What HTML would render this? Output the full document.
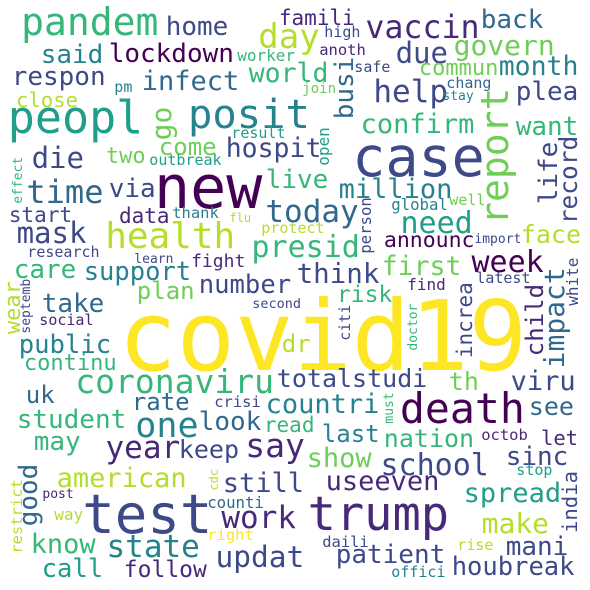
<!DOCTYPE html>
<html><head><meta charset="utf-8"><style>
html,body{margin:0;padding:0;background:#fff;}
svg{display:block;}
text{font-family:"DejaVu Sans Mono","Liberation Mono",monospace;}
</style></head>
<body>
<svg id="cloud" width="590" height="590" viewBox="0 0 590 590" xmlns="http://www.w3.org/2000/svg">
<rect width="590" height="590" fill="#ffffff"/>
<g id="words"></g>
</svg>
<script>
const palette = ["#440154","#482878","#3e4989","#31688e","#26828e","#1f9e89","#35b779","#6ece58","#b5de2b","#fde725"];
// horizontal words: word, left, baseline, size, colour index
const hWords = ["covid19","new","case","test","trump","peopl","death","posit","health","pandem","one","day","say","time","year","work","state","vaccin","help","today","school","need","presid","coronaviru","week","die","mask","updat","still","die"];
const hItems = [
["covid19",123,370,97,9],["new",157,208,60,0],["case",355,176,55,2],["test",85,533,54,2],
["trump",310,530,47,1],["peopl",10,133,45,5],["death",402,423,41.5,0],["posit",190,128,40.5,4],
["health",107,248,36,8],["pandem",23,35,38,6],["one",137,437,35,4],["day",260,48,34,8],
["say",247,457,33,1],["time",28,203,32,3],["year",107,458,31,1],["work",223,528,31,1],
["state",108,557,31,4],["vaccin",367,38,31.6,1],["help",375,102,31,2],["today",267,222,31,3],
["school",382,475,30,2],["need",402,233,30,5],["presid",253,257,30,6],["coronaviru",77,393,33,6],
["week",473,272,30,0],["die",33,168,29,2],["mask",18,243,29,2],["updat",217,567,29.5,2],
["still",224,492,27,2],["due",397,63,29,2],["govern",455,55,28,7],["make",483,533,28,8],
["home",167,35,26,2],["lockdown",110,62,26,0],["said",42,63,26,4],["respon",13,85,26,2],
["infect",143,90,27,3],["pm",115,92,15,4],["worker",238,61,16,6],["close",17,107,20.6,8],
["result",232,138,15,5],["come",160,155,24,7],["hospit",227,157,26.5,2],["two",107,163,22,7],
["outbreak",150,165,15,5],["via",110,197,26,2],["start",10,222,21,2],["data",120,223,21,1],
["thank",173,218,15.5,4],["flu",230,222,12,8],["research",28,257,15,2],["learn",135,263,13,2],
["fight",192,267,18,1],["care",15,278,26,6],["support",85,280,25.5,4],["number",200,293,25.6,2],
["plan",138,299,24,7],["take",43,312,26,3],["social",40,325,15,1],["second",253,308,13.5,2],
["public",20,353,25.6,4],["continu",25,370,22,6],["dr",283,352,24,8],["totalstudi",278,387,25,2],
["th",450,390,25,7],["viru",512,390,27,2],["uk",27,403,24,3],["rate",133,410,24,3],
["crisi",215,407,15.5,2],["countri",267,413,27,4],["student",18,428,26,6],["look",200,430,26,3],
["read",265,432,21,6],["see",530,415,25,3],["last",323,442,24,4],["nation",385,447,25,6],
["octob",482,440,15.5,1],["let",542,445,20.5,1],["may",35,450,26,6],["keep",180,458,25,2],
["show",308,467,27,7],["sinc",507,465,26,2],["stop",517,475,15,5],["american",58,487,27,8],
["useeven",327,490,27,1],["spread",465,502,27,5],["post",43,498,13,1],["counti",208,508,15.7,3],
["way",55,520,16,8],["right",208,540,15.5,9],["know",32,553,27,6],["daili",323,547,15.5,2],
["rise",458,550,15,8],["mani",507,555,26,2],["patient",337,563,26,2],["call",43,577,25.5,5],
["follow",125,577,23,1],["houbreak",453,575,25.5,2],["offici",392,577,15,4],["famili",280,25,21,1],
["back",482,28,26,3],["high",325,37,15,2],["anoth",320,55,15.5,1],["world",250,82,26.5,6],
["safe",355,72,15,2],["commun",420,75,22,7],["month",500,75,26.5,4],["join",303,93,14,7],
["chang",447,88,15,3],["stay",443,100,13,4],["plea",517,100,26,2],["confirm",362,133,27,6],
["want",517,135,26,6],["live",267,188,26,6],["million",340,198,27,4],["global",392,210,15.7,4],
["well",450,205,15,7],["protect",262,233,15,8],["face",522,243,25,8],["announc",385,247,21.5,0],
["import",475,243,13,2],["first",383,275,26.5,7],["think",298,283,27.5,2],["find",408,290,16,1],
["latest",477,283,15,2],["risk",338,302,23,6]
];
// vertical words (read bottom to top): word, baseline x, bottom y, size, colour index
const vItems = [
["go",171,139,28,7],["open",329,165,16,5],["effect",22,203,13,6],["wear",20,333,22,8],
["septemb",30,333,13,2],["busi",353,118,26,3],["report",508,223,38,7],["life",557,203,26,2],
["record",577,223,24.5,2],["person",371,253,15.7,2],["white",578,305,16,2],["increa",472,357,21,2],
["child",543,355,24,1],["impact",564,367,28,3],["citi",350,340,15,2],["doctor",417,350,13,6],
["must",393,423,13,6],["india",577,532,20.6,2],["good",37,525,26,3],["cdc",218,490,12,8],
["restrict",22,553,15.5,8]
];
const NS = "http://www.w3.org/2000/svg";
const g = document.getElementById("words");
hItems.forEach(function(it){
  const t = document.createElementNS(NS,"text");
  t.setAttribute("x", (it[1]-0.05*it[3]).toFixed(1));
  t.setAttribute("y", it[2]);
  t.setAttribute("font-size", it[3]);
  t.setAttribute("fill", palette[it[4]]);
  t.textContent = it[0];
  
  
  g.appendChild(t);
});
vItems.forEach(function(it){
  const t = document.createElementNS(NS,"text");
  t.setAttribute("transform", "translate(" + it[1] + "," + (it[2]+0.05*it[3]).toFixed(1) + ") rotate(-90)");
  t.setAttribute("font-size", it[3]);
  t.setAttribute("fill", palette[it[4]]);
  t.textContent = it[0];
  
  
  g.appendChild(t);
});
</script>
</body></html>
